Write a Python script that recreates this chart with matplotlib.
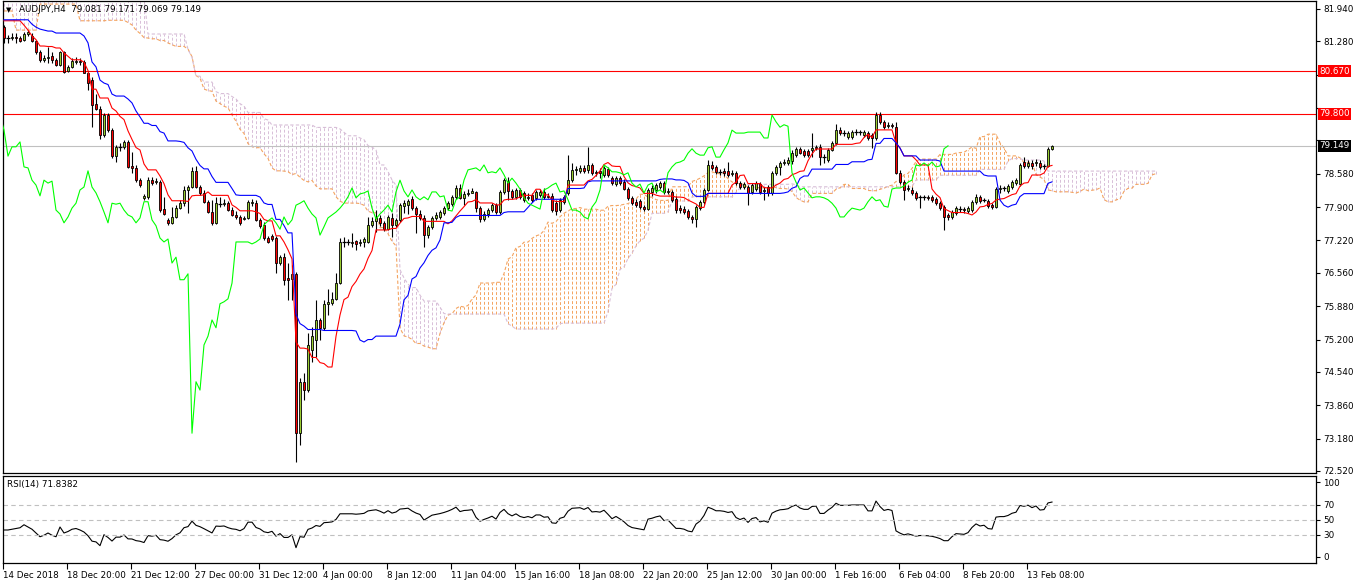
import numpy as np
import pandas as pd
import matplotlib
matplotlib.use("Agg")
import matplotlib.pyplot as plt

# ---------------- data (AUDJPY H4) ----------------
open_ = [81.57, 81.35, 81.35, 81.37, 81.35, 81.31, 81.43, 81.39, 81.29, 81.06,
         80.90, 80.94, 80.98, 80.90, 80.80, 81.06, 80.68, 80.76, 80.86, 80.88,
         80.86, 80.64, 80.49, 80.00, 79.90, 79.37, 79.78, 79.47, 78.94, 79.13,
         79.13, 79.23, 78.74, 78.70, 78.45, 78.09, 78.11, 78.45, 78.41, 78.41,
         77.86, 77.64, 77.58, 77.70, 77.88, 77.98, 78.25, 78.31, 78.64, 78.31,
         78.19, 78.01, 77.80, 77.58, 77.96, 77.96, 77.98, 77.84, 77.74, 77.70,
         77.66, 77.68, 77.98, 77.98, 77.64, 77.54, 77.27, 77.31, 77.27, 76.76,
         76.88, 76.46, 76.44, 76.54, 73.29, 74.34, 74.17, 74.99, 75.19, 75.60,
         75.44, 75.93, 75.95, 76.03, 76.35, 77.19, 77.19, 77.17, 77.21, 77.17,
         77.19, 77.19, 77.54, 77.62, 77.68, 77.58, 77.45, 77.68, 77.54, 77.64,
         77.92, 77.94, 78.07, 77.88, 77.76, 77.68, 77.33, 77.50, 77.68, 77.70,
         77.78, 77.88, 77.96, 78.11, 78.29, 78.09, 78.17, 78.19, 78.21, 77.88,
         77.66, 77.76, 77.84, 77.94, 77.80, 78.21, 78.43, 78.23, 78.11, 78.25,
         78.19, 78.09, 78.15, 78.09, 78.15, 78.21, 78.11, 78.13, 77.98, 77.84,
         78.01, 78.19, 78.45, 78.66, 78.64, 78.70, 78.66, 78.76, 78.60, 78.64,
         78.56, 78.68, 78.49, 78.37, 78.49, 78.41, 78.27, 78.09, 78.01, 78.03,
         77.90, 77.86, 78.21, 78.25, 78.31, 78.39, 78.21, 78.21, 78.07, 77.88,
         77.86, 77.82, 77.70, 77.66, 77.88, 78.01, 78.25, 78.76, 78.72, 78.62,
         78.64, 78.64, 78.58, 78.60, 78.39, 78.31, 78.31, 78.21, 78.27, 78.37,
         78.23, 78.31, 78.19, 78.60, 78.72, 78.80, 78.80, 78.84, 78.96, 79.09,
         79.04, 79.04, 79.07, 79.11, 79.13, 78.92, 78.86, 79.07, 79.21, 79.47,
         79.41, 79.33, 79.33, 79.43, 79.43, 79.37, 79.41, 79.37, 79.31, 79.78,
         79.64, 79.55, 79.58, 79.53, 78.60, 78.41, 78.27, 78.25, 78.19, 78.11,
         78.11, 78.11, 78.11, 78.07, 77.98, 77.90, 77.74, 77.70, 77.78, 77.86,
         77.86, 77.82, 77.84, 78.01, 78.11, 78.05, 78.03, 77.94, 77.90, 78.27,
         78.29, 78.23, 78.31, 78.39, 78.37, 78.82, 78.74, 78.80, 78.80, 78.80,
         78.74, 78.74, 79.081]
high = [81.61, 81.41, 81.45, 81.45, 81.39, 81.47, 81.51, 81.45, 81.31, 81.10,
        81.00, 81.17, 81.06, 80.94, 81.08, 81.08, 80.80, 80.94, 80.96, 80.94,
        80.90, 80.68, 80.55, 80.21, 79.96, 79.82, 79.82, 79.51, 79.17, 79.21,
        79.27, 79.27, 79.02, 78.76, 78.49, 78.17, 78.52, 78.52, 78.49, 78.45,
        78.11, 77.68, 77.90, 77.94, 78.05, 78.33, 78.35, 78.72, 78.74, 78.35,
        78.25, 78.05, 78.05, 78.11, 78.11, 78.07, 78.03, 77.90, 77.82, 77.74,
        77.72, 78.05, 78.07, 78.05, 77.68, 77.60, 77.31, 77.35, 77.31, 76.92,
        76.97, 76.76, 76.72, 76.58, 74.42, 74.52, 75.33, 75.45, 76.01, 75.64,
        76.01, 76.23, 76.17, 76.56, 77.27, 77.29, 77.25, 77.37, 77.23, 77.25,
        77.29, 77.70, 77.70, 77.84, 77.74, 77.62, 77.74, 77.78, 77.68, 77.98,
        78.05, 78.07, 78.13, 77.92, 77.84, 77.74, 77.54, 77.72, 77.80, 77.84,
        77.92, 78.03, 78.15, 78.35, 78.37, 78.23, 78.27, 78.29, 78.23, 77.92,
        77.82, 77.88, 77.98, 77.98, 78.25, 78.49, 78.52, 78.27, 78.29, 78.29,
        78.23, 78.19, 78.19, 78.25, 78.27, 78.29, 78.19, 78.19, 78.05, 78.09,
        78.15, 78.96, 78.80, 78.74, 78.76, 78.76, 79.13, 78.80, 78.66, 78.70,
        78.74, 78.72, 78.54, 78.54, 78.54, 78.47, 78.31, 78.13, 78.07, 78.07,
        77.94, 78.29, 78.35, 78.39, 78.43, 78.43, 78.29, 78.25, 78.13, 77.94,
        77.92, 77.86, 77.74, 77.94, 78.05, 78.29, 78.86, 78.84, 78.76, 78.68,
        78.70, 78.82, 78.66, 78.64, 78.43, 78.41, 78.35, 78.39, 78.43, 78.41,
        78.31, 78.35, 78.64, 78.76, 78.84, 78.88, 78.92, 79.07, 79.13, 79.13,
        79.09, 79.09, 79.41, 79.17, 79.19, 78.98, 79.11, 79.25, 79.60, 79.53,
        79.47, 79.45, 79.47, 79.49, 79.47, 79.47, 79.45, 79.41, 79.84, 79.84,
        79.68, 79.64, 79.62, 79.64, 78.66, 78.45, 78.35, 78.31, 78.23, 78.15,
        78.15, 78.15, 78.15, 78.11, 78.03, 77.94, 77.78, 77.84, 77.92, 77.92,
        77.90, 77.92, 78.05, 78.17, 78.15, 78.09, 78.07, 77.98, 78.31, 78.35,
        78.33, 78.37, 78.45, 78.49, 78.80, 78.92, 78.86, 78.86, 78.88, 78.86,
        78.78, 79.13, 79.171]
low = [81.25, 81.25, 81.31, 81.25, 81.27, 81.29, 81.39, 81.27, 81.02, 80.86,
       80.86, 80.84, 80.84, 80.78, 80.78, 80.64, 80.66, 80.74, 80.82, 80.80,
       80.63, 80.29, 79.53, 79.88, 79.29, 79.33, 79.43, 78.90, 78.82, 79.04,
       79.09, 78.70, 78.60, 78.41, 78.31, 78.05, 78.07, 78.35, 78.37, 77.80,
       77.74, 77.54, 77.56, 77.68, 77.86, 77.92, 77.78, 78.29, 78.29, 78.15,
       77.98, 77.78, 77.54, 77.56, 77.90, 77.92, 77.82, 77.72, 77.66, 77.54,
       77.64, 77.66, 77.92, 77.62, 77.47, 77.23, 77.17, 77.21, 76.56, 76.72,
       76.31, 76.01, 76.01, 72.70, 73.05, 73.97, 74.13, 74.74, 74.84, 75.19,
       75.40, 75.70, 75.91, 76.01, 76.33, 77.09, 77.13, 77.09, 77.03, 77.11,
       77.09, 77.17, 77.50, 77.39, 77.52, 77.41, 77.43, 77.29, 77.50, 77.60,
       77.78, 77.76, 77.84, 77.37, 77.64, 77.09, 77.27, 77.45, 77.64, 77.66,
       77.74, 77.84, 77.92, 78.07, 78.07, 77.94, 78.13, 78.19, 77.80, 77.60,
       77.62, 77.70, 77.80, 77.76, 77.76, 78.17, 78.05, 78.07, 78.07, 78.07,
       78.01, 78.05, 78.01, 78.05, 78.11, 78.07, 78.09, 77.80, 77.74, 77.80,
       77.96, 78.15, 78.41, 78.56, 78.60, 78.60, 78.60, 78.56, 78.54, 78.49,
       78.52, 78.52, 78.35, 78.33, 78.35, 78.25, 78.05, 77.94, 77.90, 77.86,
       77.82, 77.84, 78.13, 78.19, 78.27, 78.17, 78.17, 78.01, 77.78, 77.78,
       77.76, 77.66, 77.58, 77.50, 77.84, 77.96, 78.23, 78.66, 78.58, 78.56,
       78.54, 78.52, 78.54, 78.35, 78.27, 78.27, 77.94, 78.17, 78.23, 78.17,
       78.05, 78.13, 78.15, 78.56, 78.56, 78.76, 78.76, 78.78, 78.92, 78.98,
       78.92, 78.92, 78.92, 79.07, 78.76, 78.80, 78.82, 79.04, 79.17, 79.37,
       79.35, 79.29, 79.29, 79.37, 79.37, 79.33, 79.27, 79.11, 79.27, 79.60,
       79.49, 79.51, 79.51, 78.58, 78.37, 78.05, 78.23, 78.15, 78.05, 77.88,
       78.05, 78.05, 78.01, 77.94, 77.84, 77.43, 77.64, 77.66, 77.74, 77.80,
       77.78, 77.78, 77.80, 77.96, 77.98, 78.01, 77.88, 77.86, 77.88, 78.19,
       78.23, 78.19, 78.27, 78.35, 78.33, 78.70, 78.70, 78.68, 78.74, 78.68,
       78.68, 78.72, 79.069]
close = [81.35, 81.35, 81.37, 81.35, 81.29, 81.43, 81.47, 81.29, 81.06, 80.90,
         80.94, 80.96, 80.90, 80.80, 81.06, 80.66, 80.76, 80.88, 80.88, 80.86,
         80.64, 80.43, 79.98, 79.90, 79.37, 79.78, 79.47, 78.94, 79.13, 79.13,
         79.23, 78.72, 78.70, 78.45, 78.35, 78.13, 78.45, 78.39, 78.43, 77.84,
         77.76, 77.58, 77.70, 77.88, 77.98, 78.25, 78.31, 78.64, 78.31, 78.19,
         78.01, 77.80, 77.58, 77.98, 77.96, 77.98, 77.84, 77.74, 77.70, 77.58,
         77.68, 78.01, 78.01, 77.64, 77.52, 77.27, 77.19, 77.25, 76.76, 76.88,
         76.42, 76.42, 76.54, 73.29, 74.34, 74.17, 75.09, 75.27, 75.60, 75.44,
         75.93, 75.97, 76.03, 76.35, 77.19, 77.19, 77.19, 77.19, 77.15, 77.19,
         77.25, 77.54, 77.62, 77.68, 77.58, 77.45, 77.70, 77.54, 77.64, 77.94,
         77.98, 78.03, 77.88, 77.76, 77.68, 77.33, 77.50, 77.68, 77.74, 77.80,
         77.88, 77.98, 78.11, 78.29, 78.09, 78.17, 78.19, 78.23, 77.88, 77.66,
         77.76, 77.84, 77.94, 77.80, 78.21, 78.45, 78.23, 78.11, 78.25, 78.11,
         78.05, 78.11, 78.05, 78.21, 78.21, 78.11, 78.13, 77.84, 77.82, 78.05,
         78.11, 78.45, 78.66, 78.68, 78.70, 78.64, 78.76, 78.60, 78.62, 78.60,
         78.70, 78.56, 78.39, 78.49, 78.39, 78.27, 78.09, 77.98, 77.94, 77.90,
         77.86, 78.25, 78.29, 78.35, 78.39, 78.21, 78.23, 78.05, 77.84, 77.84,
         77.80, 77.70, 77.66, 77.90, 78.01, 78.25, 78.76, 78.70, 78.62, 78.62,
         78.60, 78.56, 78.60, 78.39, 78.31, 78.37, 78.19, 78.35, 78.39, 78.21,
         78.25, 78.19, 78.60, 78.72, 78.80, 78.82, 78.86, 79.00, 79.09, 79.00,
         78.96, 78.96, 79.11, 79.13, 78.92, 78.92, 79.07, 79.21, 79.47, 79.41,
         79.41, 79.41, 79.43, 79.43, 79.43, 79.43, 79.31, 79.31, 79.78, 79.64,
         79.53, 79.58, 79.55, 78.60, 78.41, 78.25, 78.29, 78.19, 78.09, 78.11,
         78.11, 78.09, 78.05, 77.98, 77.88, 77.70, 77.70, 77.80, 77.88, 77.86,
         77.84, 77.88, 78.01, 78.11, 78.03, 78.05, 77.92, 77.90, 78.27, 78.29,
         78.29, 78.33, 78.41, 78.45, 78.76, 78.74, 78.80, 78.74, 78.82, 78.72,
         78.74, 79.09, 79.149]

# indicator values that depend on bars before the visible window
tenkan_head = [81.70, 81.70, 81.70, 81.70, 81.70, 81.61, 81.51, 81.39]
kijun_head = [81.72, 81.72, 81.72, 81.72, 81.72, 81.72, 81.72, 81.63, 81.57, 81.53,
              81.51, 81.49, 81.49, 81.45, 81.45, 81.45, 81.45, 81.45, 81.45, 81.45,
              81.39, 81.25, 80.86, 80.76, 80.49, 80.43]
span_a_head = [81.90, 81.90, 81.90, 81.51, 81.51, 81.51, 81.51, 81.51, 81.51, 82.04,
               82.04, 82.04, 82.04, 82.04, 82.04, 82.04, 82.04, 82.04, 82.04, 81.70,
               81.70, 81.70, 81.70, 81.70, 81.70, 81.70]
span_b_head = [82.20, 82.20, 82.20, 82.20, 82.20, 82.20, 82.20, 82.20, 82.20, 82.20,
               82.20, 82.20, 82.20, 82.20, 82.20, 82.20, 82.20, 82.20, 82.20, 82.20,
               82.20, 82.20, 82.20, 82.20, 82.20, 82.20, 82.20, 82.20, 82.20, 82.20,
               82.20, 82.20, 82.20, 82.20, 82.20, 82.20, 81.43, 81.43, 81.43, 81.43,
               81.43, 81.43, 81.43, 81.43, 81.43, 81.43]
rsi_head = [36, 36, 37, 38, 39, 43, 40, 37, 32, 27,
            29, 32, 29, 27, 40, 32, 34, 37, 38, 36]

date_labels = ["14 Dec 2018", "18 Dec 20:00", "21 Dec 12:00", "27 Dec 00:00",
               "31 Dec 12:00", "4 Jan 00:00", "8 Jan 12:00", "11 Jan 04:00",
               "15 Jan 16:00", "18 Jan 08:00", "22 Jan 20:00", "25 Jan 12:00",
               "30 Jan 00:00", "1 Feb 16:00", "6 Feb 04:00", "8 Feb 20:00",
               "13 Feb 08:00"]
price_ticks = [81.940, 81.280, 80.600, 79.920, 79.260, 78.580, 77.900, 77.220,
               76.560, 75.880, 75.200, 74.540, 73.860, 73.180, 72.520]
red_levels = [80.670, 79.800]
last_price = 79.149
rsi_levels = [30, 50, 70]
rsi_ticks = [0, 30, 50, 70, 100]

# ---------------- indicators ----------------
o = np.array(open_); h = np.array(high); l = np.array(low); c = np.array(close)
n = len(c)
xb = np.arange(n)
Hs, Ls, Cs = pd.Series(h), pd.Series(l), pd.Series(c)

def mid(p):
    return ((Hs.rolling(p, min_periods=1).max() + Ls.rolling(p, min_periods=1).min()) / 2).to_numpy()

tenkan = mid(9); tenkan[:len(tenkan_head)] = tenkan_head
kijun = mid(26); kijun[:len(kijun_head)] = kijun_head
spanA = np.concatenate([span_a_head, (tenkan + kijun) / 2])
base_b = mid(52)
spanB = np.concatenate([span_b_head, base_b[len(span_b_head) - 26:]])
xs = np.arange(len(spanA))

d = Cs.diff()
gain = d.clip(lower=0).ewm(alpha=1/14, adjust=True).mean()
loss = (-d.clip(upper=0)).ewm(alpha=1/14, adjust=True).mean()
rsi = (100 - 100 / (1 + gain / loss)).to_numpy()
rsi[:len(rsi_head)] = rsi_head

# ---------------- figure ----------------
W, HH = 1362, 584
fig = plt.figure(figsize=(W / 100, HH / 100), dpi=100)
FS = 6.3

def rect(x0, y0, x1, y1):
    return [x0 / W, 1 - y1 / HH, (x1 - x0) / W, (y1 - y0) / HH]

ax = fig.add_axes(rect(3, 1, 1316, 473))
axr = fig.add_axes(rect(3, 476, 1316, 563))
XL = (-0.25, 328.0)

# cloud
up = spanA >= spanB
lo = np.minimum(spanA, spanB); hi = np.maximum(spanA, spanB)
cols = np.where(up, '#F4A460', '#D8BFD8')
ax.vlines(xs, lo, hi, colors=cols, linestyles=[(0, (3, 2))], linewidth=0.7, zorder=1)
ax.plot(xs, spanA, color='#F4A460', lw=0.8, ls=(0, (3, 2)), zorder=1.5)
ax.plot(xs, spanB, color='#D8BFD8', lw=0.8, ls=(0, (3, 2)), zorder=1.5)

# level lines
for lv in red_levels:
    ax.axhline(lv, color='#FF0000', lw=0.8, zorder=2)
ax.axhline(last_price, color='#C0C0C0', lw=0.8, zorder=2)

# candles
ax.vlines(xb, l, h, color='black', lw=0.8, zorder=3)
body = np.abs(c - o)
doji = body < 0.012
bull = (c > o) & ~doji
bear = (c < o) & ~doji
ax.bar(xb[bull], (c - o)[bull], bottom=o[bull], width=0.62, color='#9ACD32',
       edgecolor='black', linewidth=0.6, zorder=4)
ax.bar(xb[bear], (o - c)[bear], bottom=c[bear], width=0.62, color='#FF0000',
       edgecolor='black', linewidth=0.6, zorder=4)
ax.hlines(c[doji], xb[doji] - 0.4, xb[doji] + 0.4, color='black', lw=0.9, zorder=4)

# ichimoku lines
ax.plot(xb, tenkan, color='#FF0000', lw=0.8, zorder=5)
ax.plot(xb, kijun, color='#0000FF', lw=0.8, zorder=5)
ax.plot(xb - 26, c, color='#00FF00', lw=0.8, zorder=5)

ax.set_xlim(*XL)
ax.set_ylim(72.479, 82.103)
ax.yaxis.tick_right()
ax.set_yticks(price_ticks)
# labels hidden behind the price boxes on the right stay blank
covered = [80.600, 79.920, 79.260]
ax.set_yticklabels(["" if v in covered else f"{v:.3f}" for v in price_ticks])
ax.tick_params(axis='y', length=3, width=0.8, pad=2, labelsize=FS, colors='black')
ax.tick_params(axis='x', bottom=False, labelbottom=False)
for s in ax.spines.values():
    s.set_linewidth(0.9); s.set_color('black')

# price boxes
for lv, fc in [(red_levels[0], '#FF0000'), (red_levels[1], '#FF0000'), (last_price, '#000000')]:
    ax.text(1.0025, lv, f"{lv:.3f}", transform=ax.get_yaxis_transform(), fontsize=FS,
            color='white', va='center', ha='left', zorder=10, clip_on=False,
            bbox=dict(boxstyle='square,pad=0.18', fc=fc, ec='none'))

# RSI panel
axr.plot(xb, rsi, color='black', lw=0.8)
for lv in rsi_levels:
    axr.axhline(lv, color='#C0C0C0', lw=0.8, ls=(0, (4, 3)))
axr.set_xlim(*XL)
axr.set_ylim(-8, 108)
axr.yaxis.tick_right()
axr.set_yticks(rsi_ticks)
axr.set_yticklabels([str(v) for v in rsi_ticks])
axr.tick_params(axis='y', length=3, width=0.8, pad=2, labelsize=FS)
axr.set_xticks(np.arange(len(date_labels)) * 16 - 0.25)
axr.set_xticklabels(date_labels, ha='left')
axr.tick_params(axis='x', length=4, width=0.8, pad=2, labelsize=FS)
for s in axr.spines.values():
    s.set_linewidth(0.9); s.set_color('black')

# titles
fig.text(6 / W, 1 - 10 / HH, "\u25BC", fontsize=5, va='center', ha='left')
fig.text(19 / W, 1 - 10 / HH, "AUDJPY,H4  79.081 79.171 79.069 79.149",
         fontsize=FS, va='center', ha='left')
fig.text(7 / W, 1 - 484 / HH, "RSI(14) 71.8382", fontsize=FS, va='center', ha='left')

fig.savefig("out.png", dpi=100, facecolor='white')
